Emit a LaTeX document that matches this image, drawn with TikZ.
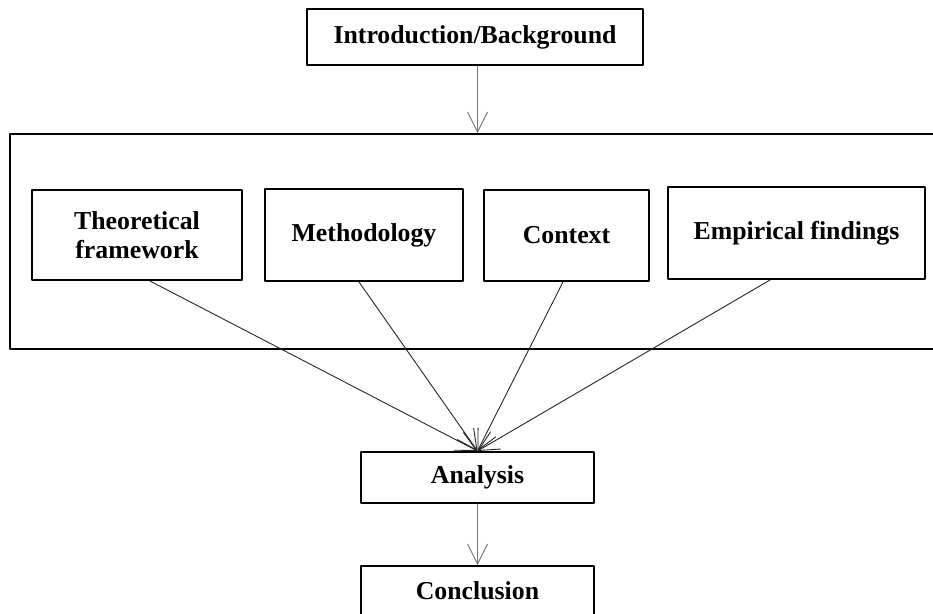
\documentclass[tikz,border=0pt]{standalone}
\usepackage{fontspec}
\setmainfont{Liberation Serif}
\usetikzlibrary{arrows.meta}

\begin{document}
\begin{tikzpicture}[line cap=round,line join=round,>={Straight Barb[length=10pt,width=10pt]},x=0.5pt,y=-0.5pt,
  box/.style={draw=black,line width=1pt,inner sep=0pt,align=center,font=\fontsize{12.9}{14.8}\selectfont\bfseries},
  flow/.style={->,draw=black!55,line width=0.5pt},
  feed/.style={->,draw=black!85,line width=0.45pt}]

\useasboundingbox (0,0) rectangle (933,614);
\clip(0,0) rectangle (933,614);

\node[box,minimum width=168pt,minimum height=28pt] (intro) at (475,37) {Introduction/Background};
\node[box,minimum width=467.5pt,minimum height=107.5pt] (panel) at (477.5,241.5) {};

\node[box,minimum width=105pt,minimum height=45pt] (theory) at (137,235) {Theoretical\\framework};
\node[box,minimum width=99pt,minimum height=46pt] (method) at (364,235) {Methodology};
\node[box,minimum width=82.5pt,minimum height=45.5pt] (context) at (566.5,235.5) {Context};
\node[box,minimum width=128.5pt,minimum height=46pt] (findings) at (796.5,233) {Empirical findings};

\node[box,minimum width=116.5pt,minimum height=25.5pt] (analysis) at (477.5,477.5) {Analysis};
\node[box,minimum width=116.5pt,minimum height=25pt] (concl) at (477.5,591) {Conclusion};

\draw[flow] (intro.south -| panel.north) -- (panel.north);
\draw[feed] ([xshift=6.5pt]theory.south) -- (analysis.north);
\draw[feed] ([xshift=-2.5pt]method.south) -- (analysis.north);
\draw[feed] ([xshift=-1.75pt]context.south) -- (analysis.north);
\draw[feed] ([xshift=-13.25pt]findings.south) -- (analysis.north);
\draw[flow] (analysis.south) -- (concl.north);

\end{tikzpicture}
\end{document}
